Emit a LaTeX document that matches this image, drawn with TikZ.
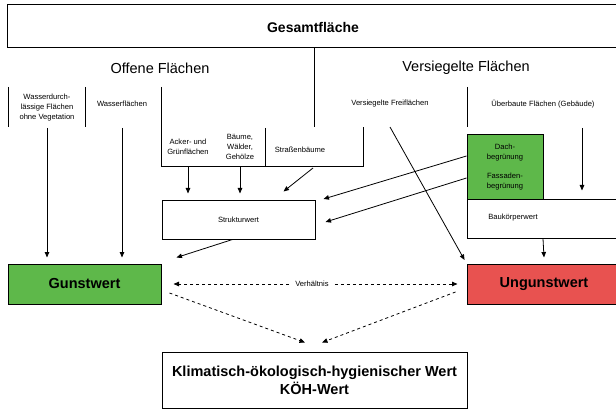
\documentclass[tikz,border=0pt]{standalone}
\usepackage{fontspec}
\setmainfont{Liberation Sans}
\usetikzlibrary{positioning,arrows.meta}
\definecolor{gunst-green}{RGB}{94,184,74}
\definecolor{ungunst-red}{RGB}{232,82,80}

\begin{document}
\begin{tikzpicture}[x=1pt,y=-1pt,>={Triangle[length=5.5pt,width=4.5pt]}]
    \tikzstyle{every node}=[inner sep=0pt,align=center]
    \tikzstyle{small}=[font=\fontsize{7.6}{10}\selectfont]
    \tikzstyle{head}=[font=\fontsize{14.5}{16}\selectfont]
    \tikzstyle{frame}=[line width=1pt]
    \tikzstyle{valbox}=[draw,line width=1pt,font=\bfseries\fontsize{14.5}{18}\selectfont]
    \tikzstyle{link}=[->,line width=0.8pt,shorten >=6pt]

    \clip (0,0) rectangle (616,409);
    \fill[white] (0,0) rectangle (616,409);

    % Gesamtflaeche und Aufteilung
    \draw[frame] (625,5) -- (7,5) -- (7,48) -- (625,48);
    \node[font=\bfseries\fontsize{14}{16}\selectfont] (gesamt) at (313,27) {Gesamtfläche};
    \draw[frame] (314,48) -- (314,127);
    \node[head] (offen) at (160,68) {Offene Flächen};
    \node[head] (versiegelt) at (466,68) {Versiegelte Flächen};

    % offene Flaechen
    \draw[frame] (8,87) -- (8,127);
    \draw[frame] (85,87) -- (85,127);
    \draw[frame] (161,87) -- (161,167) -- (363,167) -- (363,127);
    \draw[frame] (265,128) -- (265,167);
    \node[small] (wasserdurch) at (47,108) {Wasserdurch-\\lässige Flächen\\ohne Vegetation};
    \node[small] (wasser) at (122,104) {Wasserflächen};
    \node[small] (acker) at (188,147) {Acker- und\\Grünflächen};
    \node[small] (baeume) at (240,147) {Bäume,\\Wälder,\\Gehölze};
    \node[small] (strasse) at (300,150) {Straßenbäume};
    \coordinate (wd-out) at (47,128);
    \coordinate (w-out) at (122,128);
    \coordinate (acker-out) at (188,167);
    \coordinate (baeume-out) at (240,167);
    \coordinate (strasse-out) at (313,168);

    % versiegelte Flaechen
    \draw[frame] (467,87) -- (467,127);
    \node[small] (freiflaechen) at (390,104) {Versiegelte Freiflächen};
    \node[small] (ueberbaut) at (543,104) {Überbaute Flächen (Gebäude)};
    \coordinate (frei-out) at (390,127);
    \coordinate (ueber-out) at (582,128);

    \node[draw,line width=1pt,fill=gunst-green,minimum width=76,minimum height=64,
          small] (begruen) at (505,167) {Dach-\\begrünung\\[9pt]Fassaden-\\begrünung};
    \node[draw,line width=1pt,minimum width=155,minimum height=39] (bau) at (544.5,218.5) {};
    \node[small] (bau-text) at (513,218) {Baukörperwert};
    \node[draw,line width=1pt,minimum width=153,minimum height=39,small] (struktur) at (238.5,219.5) {Strukturwert};

    % Bewertung
    \node[valbox,fill=gunst-green,minimum width=153,minimum height=40] (gunst) at (84.5,284) {Gunstwert};
    \node[valbox,fill=ungunst-red,minimum width=154,minimum height=40] (ungunst) at (544,284) {Ungunstwert};
    \node[small] (verh) at (312,284) {Verhältnis};
    \node[valbox,fill=white,minimum width=305,minimum height=56] (koeh) at (314.5,380)
        {Klimatisch-ökologisch-hygienischer Wert\\KÖH-Wert};

    % Pfeile
    \draw[link] (wd-out) -- (wd-out |- gunst.north);
    \draw[link] (w-out) -- (w-out |- gunst.north);
    \draw[link] (acker-out) -- (acker-out |- struktur.north);
    \draw[link] (baeume-out) -- (baeume-out |- struktur.north);
    \draw[->,line width=0.8pt] (strasse-out) -- ([xshift=45pt,yshift=8pt]struktur.north);
    \draw[->,line width=0.8pt] ([yshift=11pt]begruen.west) -- ([xshift=8pt,yshift=0.5pt]struktur.north east);
    \draw[->,line width=0.8pt] ([yshift=-11pt]begruen.west) -- ([xshift=10pt,yshift=-2.5pt]struktur.east);
    \draw[link,shorten >=4pt] (frei-out) -- (ungunst.north west);
    \draw[link,shorten >=8pt] (ueber-out) -- (ueber-out |- bau.north);
    \draw[->,line width=0.8pt] ([xshift=-1.5pt]bau.south) -- ([yshift=6pt]ungunst.north);
    \draw[->,line width=0.8pt] ([xshift=-6pt]struktur.south) -- ([xshift=15pt,yshift=6pt]gunst.north east);

    % Verhaeltnis und KOEH-Wert
    \draw[->,dashed,line width=0.8pt] ([xshift=-6pt]verh.west) -- ([xshift=12pt]gunst.east);
    \draw[->,dashed,line width=0.8pt] ([xshift=6pt]verh.east) -- ([xshift=-9pt]ungunst.west);
    \draw[->,dashed,line width=0.8pt] ([xshift=8pt,yshift=-9pt]gunst.east) -- ([xshift=-9.5pt,yshift=9pt]koeh.north);
    \draw[->,dashed,line width=0.8pt] ([xshift=-11pt,yshift=-8pt]ungunst.west) -- ([xshift=7.5pt,yshift=9pt]koeh.north);
\end{tikzpicture}
\end{document}
